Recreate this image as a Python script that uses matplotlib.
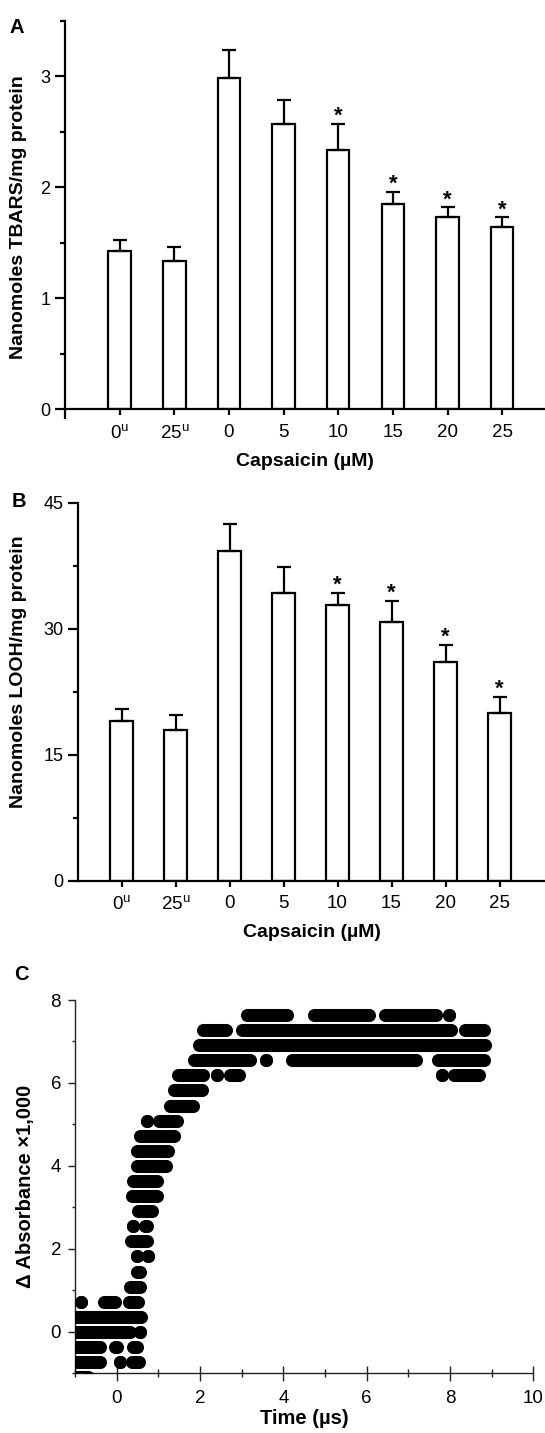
import matplotlib
matplotlib.use("Agg")
import matplotlib.pyplot as plt
from matplotlib.ticker import MultipleLocator, FixedLocator

# --- Data --------------------------------------------------------------------

doses = ["0$^{\\mathrm{u}}$", "25$^{\\mathrm{u}}$", "0", "5", "10", "15", "20", "25"]

tbars_mean = [1.43, 1.34, 2.99, 2.57, 2.34, 1.85, 1.73, 1.64]
tbars_err = [0.10, 0.12, 0.25, 0.22, 0.23, 0.11, 0.09, 0.09]
tbars_sig = [False, False, False, False, True, True, True, True]

looh_mean = [19.0, 17.9, 39.2, 34.2, 32.8, 30.75, 26.0, 20.0]
looh_err = [1.5, 1.8, 3.3, 3.2, 1.5, 2.55, 2.1, 1.9]
looh_sig = [False, False, False, False, True, True, True, True]

# transient absorbance: quantised levels and the time spans (us) filled at each
abs_levels = [7.64, 7.27, 6.91, 6.55, 6.18, 5.82, 5.45, 5.09, 4.73, 4.36,
              4.00, 3.64, 3.27, 2.91, 2.55, 2.18, 1.82, 1.45, 1.09, 0.73,
              0.36, 0.00, -0.36, -0.73, -1.09]
abs_runs = [
    [(3.12, 4.09), (4.73, 6.06), (6.43, 7.67), (7.98, 7.98)],
    [(2.07, 2.63), (3.02, 8.03), (8.36, 8.82)],
    [(1.97, 8.84)],
    [(1.85, 3.19), (3.59, 3.59), (4.21, 7.19), (7.72, 8.82)],
    [(1.47, 2.07), (2.42, 2.42), (2.72, 2.94), (7.80, 7.80), (8.10, 8.70)],
    [(1.37, 2.04)],
    [(1.27, 1.84)],
    [(0.74, 0.74), (1.02, 1.46)],
    [(0.57, 1.38)],
    [(0.49, 1.24)],
    [(0.49, 1.18)],
    [(0.40, 0.98)],
    [(0.38, 0.98)],
    [(0.51, 0.86)],
    [(0.39, 0.39), (0.68, 0.74)],
    [(0.34, 0.74)],
    [(0.50, 0.50), (0.76, 0.76)],
    [(0.50, 0.56)],
    [(0.32, 0.57)],
    [(-0.86, -0.86), (-0.31, -0.05), (0.30, 0.52)],
    [(-1.0, 0.58)],
    [(-1.0, 0.32), (0.56, 0.56)],
    [(-1.0, -0.39), (-0.04, 0.00), (0.39, 0.49)],
    [(-1.0, -0.39), (0.07, 0.07), (0.37, 0.53)],
    [(-1.0, -0.68)],
]

# --- Style -------------------------------------------------------------------

W, H = 545, 1433
LW = 1.6
DOT = 9.4
plt.rcParams["font.family"] = ["Liberation Sans", "DejaVu Sans"]
plt.rcParams["mathtext.fontset"] = "custom"
plt.rcParams["mathtext.rm"] = "Liberation Sans"
plt.rcParams["mathtext.it"] = "Liberation Sans:italic"
plt.rcParams["mathtext.bf"] = "Liberation Sans:bold"


def rect(left, top, right, bottom):
    """Pixel box -> figure fraction [l, b, w, h]."""
    return [left / W, 1 - bottom / H, (right - left) / W, (bottom - top) / H]


def fig_text(fig, x, y, s, **kw):
    fig.text(x / W, 1 - y / H, s, **kw)


def bar_panel(ax, means, errs, sig, ymax, ystep, xlim, zero_tick):
    pos = list(range(1, len(means) + 1))
    ax.bar(pos, means, width=0.41, color="white", edgecolor="black",
           linewidth=LW, zorder=2)
    ax.errorbar(pos, means, yerr=[[0] * len(errs), errs], fmt="none",
                ecolor="black", elinewidth=LW, capsize=4.8, capthick=LW,
                zorder=3)
    for p, m, e, s in zip(pos, means, errs, sig):
        if s:
            ax.annotate("*", xy=(p, m + e), xytext=(0, 1.5),
                        textcoords="offset points", ha="center",
                        va="baseline", fontsize=16, fontweight="bold")

    ax.set_xlim(*xlim)
    ax.set_ylim(0, ymax)
    ax.set_xticks(pos)
    ax.set_xticklabels(doses)
    ax.yaxis.set_major_locator(MultipleLocator(ystep))
    ax.yaxis.set_minor_locator(MultipleLocator(ystep / 2))
    if zero_tick:
        ax.xaxis.set_minor_locator(FixedLocator([xlim[0]]))
        ax.tick_params(axis="x", which="minor", length=7.5, width=LW,
                       direction="out")

    for side in ("top", "right"):
        ax.spines[side].set_visible(False)
    for side in ("left", "bottom"):
        ax.spines[side].set_linewidth(LW)
    ax.tick_params(axis="x", which="major", length=4.3, width=LW,
                   direction="out", pad=6.0, labelsize=13.5)
    ax.tick_params(axis="y", which="major", length=7.2, width=LW,
                   direction="out", pad=3.4, labelsize=13)
    ax.tick_params(axis="y", which="minor", length=3.6, width=LW,
                   direction="out")


fig = plt.figure(figsize=(W / 100, H / 100), dpi=100)
fig.set_facecolor("white")

# --- A: TBARS ----------------------------------------------------------------
ax_a = fig.add_axes(rect(65, 21, 545, 409.3))
bar_panel(ax_a, tbars_mean, tbars_err, tbars_sig, 3.5, 1,
          (0, 480 / 54.65), zero_tick=True)
fig_text(fig, 10, 33, "A", fontsize=14.5, fontweight="bold", va="baseline")
fig_text(fig, 18.5, 217.5, "Nanomoles TBARS/mg protein", rotation=90,
         ha="center", va="center", fontsize=14, fontweight="bold")
fig_text(fig, 305, 465.6, "Capsaicin (\u00b5M)", ha="center", va="baseline",
         fontsize=14, fontweight="bold")

# --- B: LOOH -----------------------------------------------------------------
ax_b = fig.add_axes(rect(78.3, 502.7, 545, 880.7))
bar_panel(ax_b, looh_mean, looh_err, looh_sig, 45, 15,
          (0.2, 0.2 + 466.7 / 54), zero_tick=False)
fig_text(fig, 12, 507, "B", fontsize=14.5, fontweight="bold", va="baseline")
fig_text(fig, 19, 671.5, "Nanomoles LOOH/mg protein", rotation=90,
         ha="center", va="center", fontsize=14, fontweight="bold")
fig_text(fig, 311.7, 936.9, "Capsaicin (\u00b5M)", ha="center",
         va="baseline", fontsize=14, fontweight="bold")

# --- C: transient absorbance -------------------------------------------------
ax_c = fig.add_axes(rect(75, 1000, 533.3, 1373.3))
for level, runs in zip(abs_levels, abs_runs):
    for start, end in runs:
        ax_c.plot([start, end], [level, level], color="black", lw=DOT,
                  solid_capstyle="butt", marker="o", ms=DOT, mew=0,
                  zorder=3)

ax_c.set_xlim(-1, 10)
ax_c.set_ylim(-1, 8)
ax_c.xaxis.set_major_locator(MultipleLocator(2))
ax_c.xaxis.set_minor_locator(MultipleLocator(1))
ax_c.yaxis.set_major_locator(MultipleLocator(2))
ax_c.yaxis.set_minor_locator(MultipleLocator(1))
for side in ("top", "right"):
    ax_c.spines[side].set_visible(False)
for side in ("left", "bottom"):
    ax_c.spines[side].set_linewidth(1.0)
    ax_c.spines[side].set_color("#222222")
ax_c.tick_params(axis="x", which="major", direction="inout", length=10.8,
                 width=1.0, color="#222222", pad=6.5, labelsize=13.5)
ax_c.tick_params(axis="x", which="minor", direction="inout", length=5.5,
                 width=1.0, color="#222222")
ax_c.tick_params(axis="y", which="major", direction="out", length=5,
                 width=1.0, color="#222222", pad=5, labelsize=13.5)
ax_c.tick_params(axis="y", which="minor", direction="out", length=2.5,
                 width=1.0, color="#222222")

fig_text(fig, 14, 980, "C", fontsize=14.5, fontweight="bold", va="baseline")
fig_text(fig, 26, 1186.6, "\u0394 Absorbance \u00d71,000", rotation=90,
         ha="center", va="center", fontsize=14.5, fontweight="bold")
fig_text(fig, 304, 1424, "Time (\u00b5s)", ha="center", va="baseline",
         fontsize=14.5, fontweight="bold")

fig.savefig("out.png", dpi=100, facecolor="white")
